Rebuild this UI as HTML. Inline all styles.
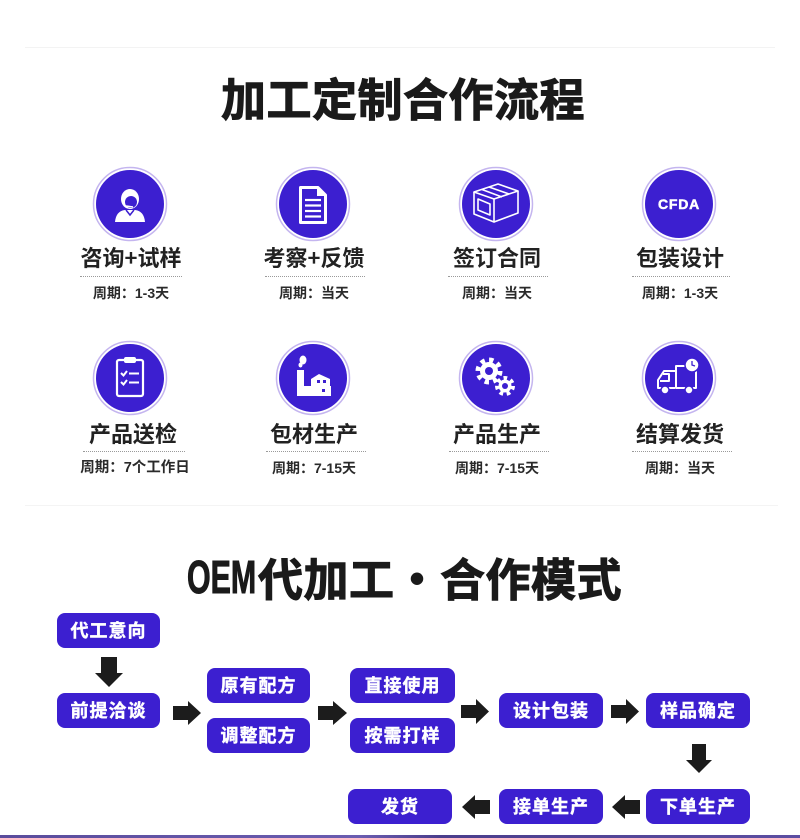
<!DOCTYPE html>
<html><head><meta charset="utf-8"><style>
html,body{margin:0;padding:0;background:#fff;}
body{width:800px;height:838px;position:relative;overflow:hidden;font-family:"Liberation Sans","Noto Sans CJK SC",sans-serif;}
.abs{position:absolute;}
.h1{position:absolute;left:0;width:806px;text-align:center;font-family:"Noto Sans CJK SC","WenQuanYi Zen Hei",sans-serif;font-weight:700;font-size:45px;line-height:45px;color:#1a1a1a;letter-spacing:0.5px;-webkit-text-stroke:1px #1a1a1a;white-space:nowrap;}
.t{position:absolute;width:200px;text-align:center;font-family:"Noto Sans CJK SC",sans-serif;font-weight:700;font-size:22px;line-height:22px;color:#222;white-space:nowrap;}
.p{position:absolute;width:200px;text-align:center;font-family:"Liberation Sans","Noto Sans CJK SC",sans-serif;font-weight:700;font-size:14px;line-height:14px;color:#2a2a2a;white-space:nowrap;}
.d{position:absolute;height:0;border-top:1.5px dotted #9a9a9a;}
.b{position:absolute;background:#3c1fd0;border-radius:8px;color:#fff;text-align:center;font-family:"Noto Sans CJK SC",sans-serif;font-weight:700;font-size:18px;letter-spacing:1px;-webkit-text-stroke:0.4px #fff;white-space:nowrap;}
svg.ic{position:absolute;width:80px;height:80px;}
</style></head><body>

<div class="abs" style="left:25px;top:47px;width:750px;height:1px;background:#f3f3f3;"></div>
<div class="h1" style="top:74px;">加工定制合作流程</div>

<!-- Row 1 icons -->
<svg class="ic" style="left:90px;top:164px" viewBox="0 0 80 80">
 <circle cx="40" cy="40" r="36.5" fill="none" stroke="#c4b5ef" stroke-width="1.5"/>
 <circle cx="40" cy="40" r="34" fill="#3c1fd0"/>
 <path d="M25 58 Q26 47 35 46 L45 46 Q54 47 55 58 Z" fill="#fff"/>
 <path d="M36 46 L40 51 L44 46" fill="none" stroke="#3c1fd0" stroke-width="1.5"/>
 <ellipse cx="40" cy="35" rx="9" ry="10" fill="#fff"/>
 <ellipse cx="41" cy="38" rx="6" ry="6" fill="#3c1fd0"/>
 <path d="M34 33 Q40 27 47 33" fill="none" stroke="#fff" stroke-width="2"/>
 <path d="M36 42 L43 43" stroke="#fff" stroke-width="1.5"/>
</svg>
<svg class="ic" style="left:273px;top:164px" viewBox="0 0 80 80">
 <circle cx="40" cy="40" r="36.5" fill="none" stroke="#c4b5ef" stroke-width="1.5"/>
 <circle cx="40" cy="40" r="34" fill="#3c1fd0"/>
 <path d="M27.5 23.5 L45 23.5 L52.5 31 L52.5 58.5 L27.5 58.5 Z" fill="none" stroke="#fff" stroke-width="3" stroke-linejoin="round"/>
 <path d="M45 23.5 L45 31 L52.5 31" fill="#fff" stroke="#fff" stroke-width="2"/>
 <g stroke="#fff" stroke-width="2.2"><line x1="32" y1="36" x2="48" y2="36"/><line x1="32" y1="41.5" x2="48" y2="41.5"/><line x1="32" y1="47" x2="48" y2="47"/><line x1="32" y1="52.5" x2="48" y2="52.5"/></g>
</svg>
<svg class="ic" style="left:456px;top:164px" viewBox="0 0 80 80">
 <circle cx="40" cy="40" r="36.5" fill="none" stroke="#c4b5ef" stroke-width="1.5"/>
 <circle cx="40" cy="40" r="34" fill="#3c1fd0"/>
 <g fill="none" stroke="#fff" stroke-width="1.6" stroke-linejoin="round">
  <path d="M18 28 L42 20 L62 27 L38 35 Z"/>
  <path d="M18 28 L18 50 L38 58 L38 35"/>
  <path d="M38 58 L62 49 L62 27"/>
  <path d="M26 25.5 L46 33 M33 23 L53 30"/>
  <path d="M22 35 L34 40 L34 51 L22 46 Z"/>
 </g>
</svg>
<svg class="ic" style="left:639px;top:164px" viewBox="0 0 80 80">
 <circle cx="40" cy="40" r="36.5" fill="none" stroke="#c4b5ef" stroke-width="1.5"/>
 <circle cx="40" cy="40" r="34" fill="#3c1fd0"/>
 <text x="40" y="45" text-anchor="middle" font-family="Liberation Sans, sans-serif" font-weight="700" font-size="14" fill="#fff" letter-spacing="0.8" stroke="#fff" stroke-width="0.5">CFDA</text>
</svg>

<!-- Row 1 text -->
<div class="t" style="left:31px;top:246px">咨询+试样</div>
<div class="d" style="left:80px;top:276px;width:102px"></div>
<div class="p" style="left:31px;top:286px">周期：1-3天</div>

<div class="t" style="left:214px;top:246px">考察+反馈</div>
<div class="d" style="left:265px;top:276px;width:100px"></div>
<div class="p" style="left:214px;top:286px">周期：当天</div>

<div class="t" style="left:397px;top:246px">签订合同</div>
<div class="d" style="left:448px;top:276px;width:100px"></div>
<div class="p" style="left:397px;top:286px">周期：当天</div>

<div class="t" style="left:580px;top:246px">包装设计</div>
<div class="d" style="left:632px;top:276px;width:98px"></div>
<div class="p" style="left:580px;top:286px">周期：1-3天</div>

<!-- Row 2 icons -->
<svg class="ic" style="left:90px;top:338px" viewBox="0 0 80 80">
 <circle cx="40" cy="40" r="36.5" fill="none" stroke="#c4b5ef" stroke-width="1.5"/>
 <circle cx="40" cy="40" r="34" fill="#3c1fd0"/>
 <rect x="27" y="22" width="26" height="36" rx="2" fill="none" stroke="#fff" stroke-width="2.2"/>
 <rect x="34" y="19" width="12" height="6" rx="2" fill="#fff"/>
 <g fill="none" stroke="#fff" stroke-width="2"><path d="M31 35 L33.5 37.5 L37 33"/><path d="M31 44 L33.5 46.5 L37 42"/></g>
 <g stroke="#fff" stroke-width="2"><line x1="39" y1="35.5" x2="49" y2="35.5"/><line x1="39" y1="44.5" x2="49" y2="44.5"/></g>
</svg>
<svg class="ic" style="left:273px;top:338px" viewBox="0 0 80 80">
 <circle cx="40" cy="40" r="36.5" fill="none" stroke="#c4b5ef" stroke-width="1.5"/>
 <circle cx="40" cy="40" r="34" fill="#3c1fd0"/>
 <ellipse cx="30" cy="22" rx="3.5" ry="4.5" fill="#fff"/>
 <ellipse cx="27.5" cy="27" rx="2" ry="2.5" fill="#fff"/>
 <rect x="24" y="32" width="7" height="26" fill="#fff"/>
 <rect x="24" y="48" width="34" height="10" fill="#fff"/>
 <path d="M38 48 L38 41 L46 36 L57 41 L57 48 Z" fill="#fff"/>
 <rect x="44" y="42" width="3" height="3" fill="#3c1fd0"/>
 <rect x="50" y="42" width="3" height="3" fill="#3c1fd0"/>
 <rect x="49" y="51" width="3" height="3" fill="#3c1fd0"/>
</svg>
<svg class="ic" style="left:456px;top:338px" viewBox="0 0 80 80">
 <circle cx="40" cy="40" r="36.5" fill="none" stroke="#c4b5ef" stroke-width="1.5"/>
 <circle cx="40" cy="40" r="34" fill="#3c1fd0"/>
 <circle cx="33" cy="33" r="9" fill="#fff"/>
 <circle cx="33" cy="33" r="11" fill="none" stroke="#fff" stroke-width="5" stroke-dasharray="4.3 4.3"/>
 <circle cx="33" cy="33" r="4" fill="#3c1fd0"/>
 <circle cx="49" cy="48" r="6.5" fill="#fff"/>
 <circle cx="49" cy="48" r="8" fill="none" stroke="#fff" stroke-width="4" stroke-dasharray="3.6 3.6"/>
 <circle cx="49" cy="48" r="3" fill="#3c1fd0"/>
</svg>
<svg class="ic" style="left:639px;top:338px" viewBox="0 0 80 80">
 <circle cx="40" cy="40" r="36.5" fill="none" stroke="#c4b5ef" stroke-width="1.5"/>
 <circle cx="40" cy="40" r="34" fill="#3c1fd0"/>
 <g fill="none" stroke="#fff" stroke-width="2" stroke-linejoin="round">
  <path d="M37 28 L57 28 L57 50 L37 50 Z"/>
  <path d="M36 33 L25 33 L19 42 L19 50 L36 50"/>
  <path d="M24 36 L30 36 L30 43 L21 43"/>
 </g>
 <circle cx="26" cy="52" r="4" fill="#fff" stroke="#3c1fd0" stroke-width="1.5"/>
 <circle cx="50" cy="52" r="4" fill="#fff" stroke="#3c1fd0" stroke-width="1.5"/>
 <circle cx="53" cy="27" r="7" fill="#fff" stroke="#3c1fd0" stroke-width="1.5"/>
 <path d="M53 23 L53 27 L56 28" fill="none" stroke="#3c1fd0" stroke-width="1.3"/>
</svg>

<!-- Row 2 text -->
<div class="t" style="left:33px;top:422px">产品送检</div>
<div class="d" style="left:83px;top:451px;width:102px"></div>
<div class="p" style="left:35px;top:461px;font-size:14.5px">周期：7个工作日</div>

<div class="t" style="left:214px;top:422px">包材生产</div>
<div class="d" style="left:266px;top:451px;width:100px"></div>
<div class="p" style="left:214px;top:461px">周期：7-15天</div>

<div class="t" style="left:397px;top:422px">产品生产</div>
<div class="d" style="left:449px;top:451px;width:100px"></div>
<div class="p" style="left:397px;top:461px">周期：7-15天</div>

<div class="t" style="left:580px;top:422px">结算发货</div>
<div class="d" style="left:632px;top:451px;width:100px"></div>
<div class="p" style="left:580px;top:461px">周期：当天</div>

<div class="abs" style="left:25px;top:505px;width:753px;height:1px;background:#f4f4f4;"></div>

<!-- OEM title -->
<div class="abs" style="left:187px;top:554px;width:72px;height:46px;overflow:visible;">
 <span style="display:inline-block;transform:scaleX(0.66);transform-origin:0 50%;font-family:'Liberation Sans',sans-serif;font-weight:700;font-size:46px;line-height:46px;color:#1a1a1a;-webkit-text-stroke:1px #1a1a1a;white-space:nowrap;">OEM</span>
</div>
<div class="abs" style="left:258px;top:554px;font-family:'Noto Sans CJK SC',sans-serif;font-weight:700;font-size:45px;line-height:45px;color:#1a1a1a;letter-spacing:0.5px;-webkit-text-stroke:1px #1a1a1a;white-space:nowrap;">代加工・合作模式</div>

<!-- Flow boxes -->
<div class="b" style="left:57px;top:613px;width:103px;height:35px;line-height:35px">代工意向</div>
<div class="b" style="left:57px;top:693px;width:103px;height:35px;line-height:35px">前提洽谈</div>
<div class="b" style="left:207px;top:668px;width:103px;height:35px;line-height:35px">原有配方</div>
<div class="b" style="left:207px;top:718px;width:103px;height:35px;line-height:35px">调整配方</div>
<div class="b" style="left:350px;top:668px;width:105px;height:35px;line-height:35px">直接使用</div>
<div class="b" style="left:350px;top:718px;width:105px;height:35px;line-height:35px">按需打样</div>
<div class="b" style="left:499px;top:693px;width:104px;height:35px;line-height:35px">设计包装</div>
<div class="b" style="left:646px;top:693px;width:104px;height:35px;line-height:35px">样品确定</div>
<div class="b" style="left:646px;top:789px;width:104px;height:35px;line-height:35px">下单生产</div>
<div class="b" style="left:499px;top:789px;width:104px;height:35px;line-height:35px">接单生产</div>
<div class="b" style="left:348px;top:789px;width:104px;height:35px;line-height:35px">发货</div>

<!-- Arrows -->
<svg class="abs" style="left:0;top:0" width="800" height="838" viewBox="0 0 800 838">
 <g fill="#1c1c1c">
  <!-- down arrow 1 -->
  <path d="M101 657 L117 657 L117 673 L123 673 L109 687 L95 673 L101 673 Z"/>
  <!-- right arrows -->
  <path d="M173 706 L188 706 L188 701 L201 713 L188 725 L188 720 L173 720 Z"/>
  <path d="M318 706 L333 706 L333 701 L347 713 L333 725 L333 720 L318 720 Z"/>
  <path d="M461 705 L476 705 L476 699 L489 711.5 L476 724 L476 718 L461 718 Z"/>
  <path d="M611 705 L626 705 L626 699 L639 711.5 L626 724 L626 718 L611 718 Z"/>
  <!-- down arrow 2 -->
  <path d="M692 744 L706 744 L706 760 L712 760 L699 773 L686 760 L692 760 Z"/>
  <!-- left arrows -->
  <path d="M640 800 L625 800 L625 795 L612 807 L625 819 L625 814 L640 814 Z"/>
  <path d="M490 800 L475 800 L475 795 L462 807 L475 819 L475 814 L490 814 Z"/>
 </g>
</svg>

<div class="abs" style="left:0;top:835px;width:800px;height:3px;background:linear-gradient(90deg,#5a4c9c,#6a5cb0 45%,#4a3d8c 55%,#5c4ea2);"></div>
</body></html>
